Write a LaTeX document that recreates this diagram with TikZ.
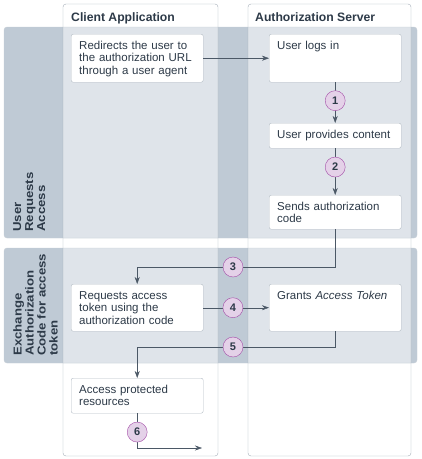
\documentclass[tikz,border=0pt]{standalone}
\usepackage{fontspec}
\setmainfont{Liberation Sans}
\newfontfamily\sidefont[FakeStretch=1.15]{Liberation Sans}
\usetikzlibrary{arrows.meta,positioning}
\definecolor{ink}{HTML}{2D3A48}
\definecolor{flowline}{HTML}{4B5866}
\definecolor{laneline}{HTML}{A3ADB7}
\definecolor{bandline}{HTML}{C6CED6}
\definecolor{banddark}{HTML}{BFCAD5}
\definecolor{bandlight}{HTML}{DFE4EA}
\definecolor{boxline}{HTML}{B3BCC5}
\definecolor{numfill}{HTML}{E4D1E8}
\definecolor{numline}{HTML}{A24AA6}
\begin{document}
\begin{tikzpicture}[
			x=1pt, y=-1pt,
			font=\fontsize{11.5}{12.7}\selectfont,
			lane/.style={draw=laneline, rounded corners=3pt},
			title/.style={anchor=base west, inner sep=0pt, text=ink, font=\bfseries\fontsize{12.2}{13}\selectfont},
			side/.style={rotate=90, anchor=north west, align=left, inner sep=0pt, text=ink, font=\sidefont\bfseries\fontsize{11.5}{12}\selectfont},
			box/.style={rectangle, draw=boxline, fill=white, rounded corners=2pt, anchor=north west, align=left, text width=116pt, inner xsep=8pt, inner ysep=4pt, text height=11pt, text depth=#1, text=ink},
			num/.style={circle, draw=numline, fill=numfill, minimum size=20pt, inner sep=0pt, text=ink, font=\bfseries\fontsize{11}{11}\selectfont},
			flow/.style={draw=flowline, -{Stealth[length=7pt, width=5pt]}}
		]
		\useasboundingbox (0,0) rectangle (422,459);

		\foreach \top/\bot in {27/238, 248/363} {
			\fill[banddark, rounded corners=3pt] (4,\top) rectangle (417,\bot);
			\fill[bandlight] (63,\top) rectangle (218,\bot) (248,\top) rectangle (411,\bot);
			\draw[bandline, rounded corners=3pt] (4,\top) rectangle (417,\bot);
		}
		\node[side] (phase1) at (13,232) {User\\Requests\\Access};
		\node[side] (phase2) at (13,356) {Exchange\\Authorization\\Code for access\\token};

		\draw[lane] (63,4) rectangle (218,456);
		\draw[lane] (248,4) rectangle (411,456);
		\node[title] (client) at (71,21) {Client Application};
		\node[title] (server) at (255,21) {Authorization Server};

		\node[box=29pt] (redir) at (71,34) {Redirects the user to\\the authorization URL\\through a user agent};
		\node[box=29pt] (logs) at (269,34) {User logs in};
		\node[box=6pt] (provides) at (269,123) {User provides content};
		\node[box=15pt] (sends) at (269,195) {Sends authorization\\code};
		\node[box=28pt] (requests) at (71,284) {Requests access\\token using the\\authorization code};
		\node[box=28pt] (grants) at (269,284) {Grants \textit{Access Token}};
		\node[box=16pt] (access) at (71,378) {Access protected\\resources};

		\coordinate (bend3) at (requests.north |- 0,267);
		\coordinate (bend5) at (access.north |- 0,347);
		\coordinate (exit) at (202,448);

		\draw[flow] (redir) -- (logs);
		\draw[flow] (logs) -- (provides) node[num, pos=0.45] (n1) {1};
		\draw[flow] (provides) -- (sends) node[num, pos=0.4] (n2) {2};
		\draw[flow] (sends) |- (bend3) node[num, pos=0.758] (n3) {3} -- (requests);
		\draw[flow] (requests) -- (grants) node[num, pos=0.45] (n4) {4};
		\draw[flow] (grants) |- (bend5) node[num, pos=0.758] (n5) {5} -- (access);
		\draw[flow] (access) |- (exit) node[num, pos=0.27] (n6) {6};
	\end{tikzpicture}
\end{document}
